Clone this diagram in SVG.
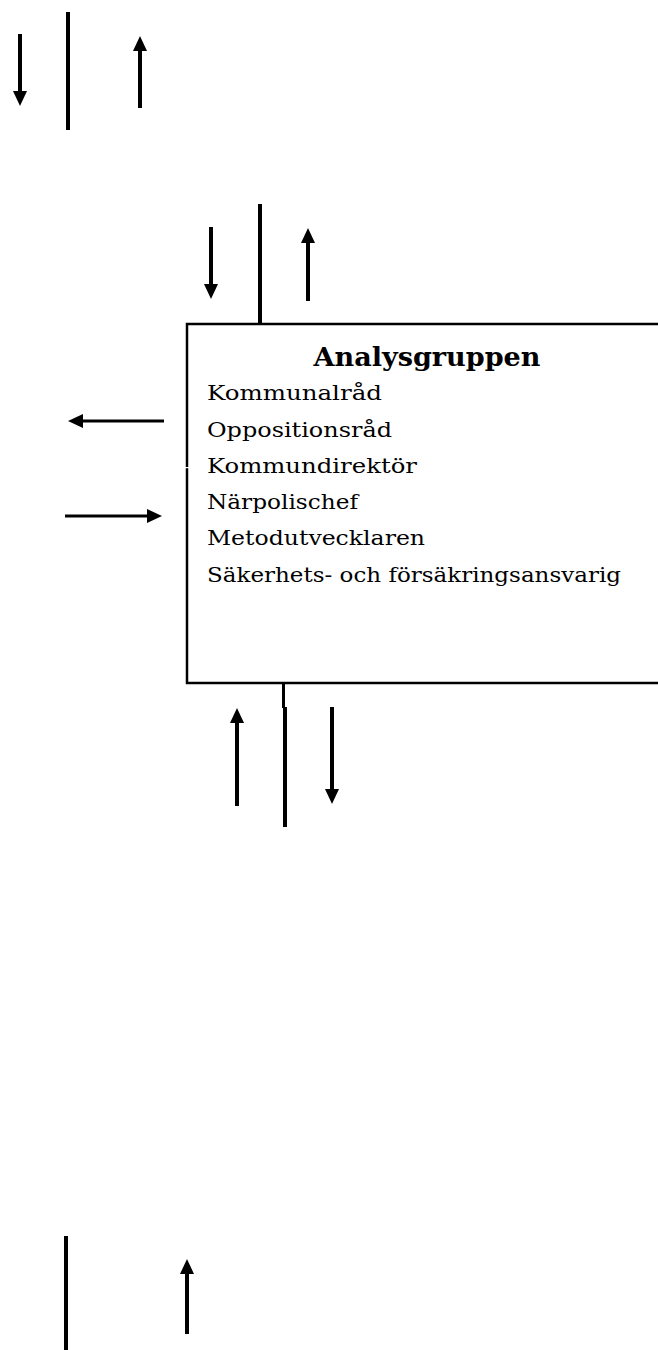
<svg xmlns="http://www.w3.org/2000/svg" width="658" height="1350" viewBox="0 0 658 1350">
<style>
.sh{stroke:#000;stroke-width:4;fill:none}
.ar{stroke:#000;stroke-width:4;fill:none;marker-end:url(#ah)}
.arh{stroke:#000;stroke-width:3;fill:none;marker-end:url(#ah)}
.it{font-family:"DejaVu Serif","Liberation Serif",serif;font-size:20px;fill:#000}
.tt{font-family:"DejaVu Serif","Liberation Serif",serif;font-size:26px;font-weight:bold;fill:#000}
</style>
<defs>
<marker id="ah" markerUnits="userSpaceOnUse" markerWidth="16" markerHeight="16" refX="1" refY="8" orient="auto" viewBox="0 0 16 16">
<path d="M0,1 L15,8 L0,15 z" fill="#000"/>
</marker>
</defs>
<rect width="658" height="1350" fill="#fff"/>
<g id="analysgruppen">
<rect x="187" y="324" width="480" height="359" fill="#fff" stroke="#000" stroke-width="2.5"/>
<rect x="185" y="467" width="4" height="1.2" fill="#fff"/>
<text class="tt" x="427" y="366" text-anchor="middle" textLength="227" lengthAdjust="spacingAndGlyphs">Analysgruppen</text>
<text class="it" x="207" y="400" textLength="175" lengthAdjust="spacingAndGlyphs">Kommunalråd</text>
<text class="it" x="207" y="437" textLength="185" lengthAdjust="spacingAndGlyphs">Oppositionsråd</text>
<text class="it" x="207" y="473" textLength="210" lengthAdjust="spacingAndGlyphs">Kommundirektör</text>
<text class="it" x="207" y="509" textLength="151" lengthAdjust="spacingAndGlyphs">Närpolischef</text>
<text class="it" x="207" y="545" textLength="218" lengthAdjust="spacingAndGlyphs">Metodutvecklaren</text>
<text class="it" x="207" y="582" textLength="414" lengthAdjust="spacingAndGlyphs">Säkerhets- och försäkringsansvarig</text>
</g>
<g id="connectors">
<line class="ar" x1="20" y1="34" x2="20" y2="92"/>
<line class="sh" x1="68" y1="12" x2="68" y2="130"/>
<line class="ar" x1="140" y1="108" x2="140" y2="50"/>
<line class="ar" x1="211" y1="227" x2="211" y2="285"/>
<line class="sh" x1="260" y1="204" x2="260" y2="324"/>
<line class="ar" x1="308" y1="301" x2="308" y2="242"/>
<line class="arh" x1="164" y1="421" x2="82" y2="421"/>
<line class="arh" x1="65" y1="516" x2="148" y2="516"/>
<line stroke="#000" stroke-width="3" x1="283.5" y1="683" x2="283.5" y2="708"/>
<line class="sh" x1="285" y1="707" x2="285" y2="827"/>
<line class="ar" x1="237" y1="806" x2="237" y2="722"/>
<line class="ar" x1="332" y1="707" x2="332" y2="790"/>
<line class="sh" x1="66" y1="1236" x2="66" y2="1350"/>
<line class="ar" x1="187" y1="1334" x2="187" y2="1273"/>
</g>
</svg>
